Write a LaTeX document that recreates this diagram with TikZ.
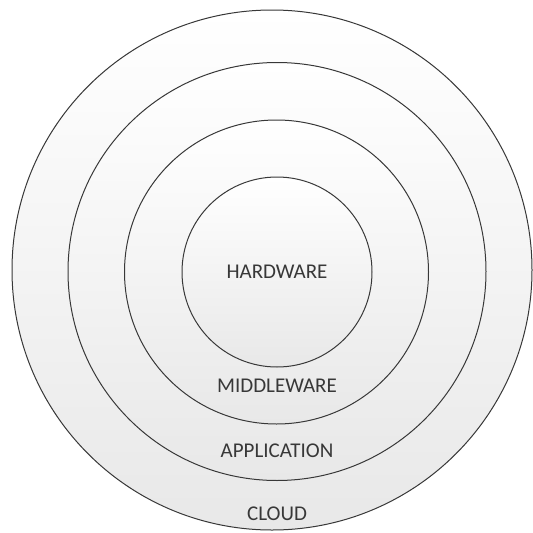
\documentclass[tikz,border=0pt]{standalone}
\usepackage{fontspec}
\setmainfont{Carlito}
\begin{document}
\begin{tikzpicture}[x=1pt,y=-1pt,
  ring/.style={draw=black!78, line width=1pt, top color=white, bottom color=black!9},
  lbl/.style={text=black!78, font=\fontsize{21}{23}\selectfont, inner sep=0pt}]
\useasboundingbox (0,0) rectangle (533,533);
\fill[white] (0,0) rectangle (533,533);
\path[ring] (272,270) circle (260);
\path[ring] (277,271.5) circle (209);
\path[ring] (276.5,272) circle (152);
\path[ring] (277,272) circle (95);
\node[lbl] (hw) at (277,272) {HARDWARE};
\node[lbl] (mw) at (277,386) {MIDDLEWARE};
\node[lbl] (app) at (277,451) {APPLICATION};
\node[lbl] (cl) at (277,514) {CLOUD};
\end{tikzpicture}
\end{document}
